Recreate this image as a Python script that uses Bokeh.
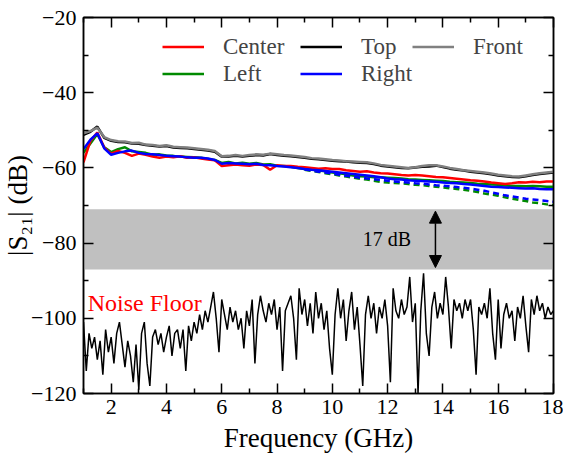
import numpy as np
from bokeh.plotting import figure
from bokeh.models import (LinearAxis, FixedTicker, Range1d, Legend, LegendItem,
                          BoxAnnotation, Arrow, NormalHead, Label, CustomJSTickFormatter)
from bokeh.embed import file_html
from bokeh.resources import INLINE

# ---------------- data ----------------
freq = np.round(np.arange(1.0, 18.001, 0.25), 2)          # 69 points
freq_tail = np.round(np.arange(9.0, 18.001, 0.25), 2)     # 37 points
freq_noise = np.round(np.arange(1.0, 18.001, 0.1), 2)     # 171 points

front = [-50.8, -50.2, -49.3, -51.8,
         -52.6, -52.9, -53.0, -53.4,
         -53.3, -53.8, -53.9, -54.2,
         -54.0, -54.4, -54.5, -54.6,
         -54.8, -55.0, -55.2, -55.5,
         -56.9, -56.8, -56.6, -56.8,
         -56.6, -56.4, -56.5, -56.2,
         -56.4, -56.6, -56.7, -56.9,
         -57.1, -57.4, -57.5, -57.7,
         -57.9, -58.0, -58.2, -58.3,
         -58.4, -58.5, -58.8, -59.2,
         -59.4, -59.6, -59.8, -60.0,
         -59.8, -59.5, -59.3, -59.3,
         -59.6, -60.0, -60.3, -60.6,
         -60.8, -61.0, -61.2, -61.5,
         -61.8, -62.0, -62.2, -62.3,
         -62.0, -61.7, -61.4, -61.2,
         -61.0]

top = [-51.2, -50.4, -49.0, -52.0,
       -52.8, -53.1, -53.2, -53.5,
       -53.6, -53.9, -54.1, -54.3,
       -54.2, -54.6, -54.7, -54.8,
       -55.0, -55.2, -55.4, -55.7,
       -57.0, -57.0, -56.8, -57.0,
       -56.8, -56.6, -56.7, -56.3,
       -56.6, -56.8, -56.9, -57.1,
       -57.3, -57.6, -57.7, -57.9,
       -58.1, -58.2, -58.3, -58.5,
       -58.6, -58.7, -59.0, -59.4,
       -59.6, -59.8, -60.0, -60.1,
       -59.9, -59.7, -59.6, -59.4,
       -59.8, -60.2, -60.5, -60.7,
       -61.0, -61.2, -61.4, -61.7,
       -62.0, -62.2, -62.4, -62.5,
       -62.2, -61.9, -61.6, -61.4,
       -61.2]

center = [-58.5, -52.8, -50.6, -54.6,
          -56.2, -55.5, -56.0, -56.8,
          -56.2, -56.5, -57.0, -57.3,
          -57.0, -57.2, -56.9, -57.3,
          -57.2, -57.5, -57.8, -58.0,
          -59.5, -59.3, -59.1, -59.3,
          -59.4, -59.1, -59.2, -60.5,
          -59.3, -59.5, -59.5, -59.7,
          -59.8, -60.0, -60.2, -60.1,
          -60.3, -60.3, -60.6, -60.8,
          -61.0, -60.9, -61.2, -61.4,
          -61.5, -61.7, -61.9, -62.0,
          -61.9, -62.0, -62.2, -62.4,
          -62.5, -62.7, -62.9, -63.1,
          -63.3, -63.4, -63.6, -63.9,
          -64.1, -64.3, -64.1, -63.8,
          -63.9, -63.7, -63.8, -63.6,
          -63.6]

left = [-56.0, -53.5, -51.0, -54.5,
        -55.8, -55.0, -54.5, -55.6,
        -55.8, -56.0, -56.5, -56.4,
        -56.7, -56.8, -57.0, -57.1,
        -57.2, -57.3, -57.6, -57.9,
        -58.7, -58.4, -58.8, -58.6,
        -58.9, -58.7, -59.1, -59.0,
        -59.4, -59.5, -59.7, -60.0,
        -60.3, -60.4, -60.7, -60.9,
        -61.2, -61.4, -61.7, -62.0,
        -62.2, -62.3, -62.5, -62.5,
        -62.6, -62.7, -62.8, -63.0,
        -63.1, -63.2, -63.3, -63.4,
        -63.5, -63.7, -63.8, -63.9,
        -64.0, -64.2, -64.3, -64.4,
        -64.5, -64.7, -64.8, -64.8,
        -64.9, -64.8, -64.9, -65.0,
        -65.0]

right = [-55.0, -52.5, -50.8, -54.8,
         -56.5, -56.0, -55.6, -55.4,
         -56.0, -56.3, -56.4, -56.6,
         -56.8, -56.9, -57.0, -57.2,
         -57.3, -57.3, -57.5, -57.9,
         -58.9, -58.7, -58.8, -58.9,
         -59.0, -58.9, -59.2, -59.3,
         -59.5, -59.6, -59.8, -60.0,
         -60.3, -60.5, -60.6, -60.8,
         -61.0, -61.2, -61.4, -61.6,
         -61.8, -62.0, -62.2, -62.5,
         -62.8, -63.0, -63.1, -63.3,
         -63.4, -63.5, -63.6, -63.7,
         -63.9, -64.0, -64.1, -64.3,
         -64.4, -64.6, -64.8, -65.0,
         -65.1, -65.2, -65.3, -65.4,
         -65.5, -65.4, -65.6, -65.7,
         -65.7]

left_tail = [-60.5, -60.8, -61.1, -61.4,
             -61.7, -62.0, -62.3, -62.6,
             -62.9, -63.1, -63.4, -63.7,
             -63.9, -64.0, -64.1, -64.3,
             -64.5, -64.6, -64.8, -65.0,
             -65.2, -65.4, -65.6, -65.8,
             -66.1, -66.4, -66.8, -67.1,
             -67.4, -67.8, -68.2, -68.5,
             -68.8, -69.2, -69.4, -69.7,
             -69.9]

right_tail = [-60.4, -60.7, -61.0, -61.2,
              -61.5, -61.8, -62.1, -62.3,
              -62.6, -62.8, -63.0, -63.2,
              -63.4, -63.6, -63.8, -63.9,
              -64.1, -64.2, -64.4, -64.6,
              -64.7, -64.9, -65.1, -65.3,
              -65.5, -65.8, -66.1, -66.5,
              -66.9, -67.3, -67.6, -67.9,
              -68.2, -68.4, -68.6, -68.8,
              -69.0]

noise = [-101, -114, -104, -108, -105, -111, -106, -115, -103, -109,
         -105, -112, -104, -101, -107, -113, -106, -110, -117, -107,
         -119, -104, -101, -112, -118, -105, -103, -107, -104, -109,
         -105, -102, -110, -104, -103, -108, -103, -114, -102, -106,
         -101, -104, -99, -103, -98, -101, -97, -93, -100, -109,
         -95, -99, -103, -97, -101, -98, -103, -100, -108, -98,
         -102, -95, -112, -99, -94, -98, -101, -96, -99, -95,
         -103, -97, -114, -98, -96, -94, -100, -111, -92, -99,
         -95, -102, -96, -104, -93, -100, -96, -103, -98, -108,
         -115, -99, -92, -100, -95, -106, -98, -93, -103, -97,
         -107, -118, -99, -94, -100, -96, -104, -97, -100, -95,
         -102, -117, -92, -98, -100, -95, -99, -97, -89, -101,
         -96, -120, -98, -88, -104, -110, -97, -93, -100, -96,
         -99, -89, -97, -108, -95, -98, -96, -100, -95, -98,
         -95, -103, -115, -97, -99, -96, -100, -92, -104, -111,
         -95, -108, -99, -96, -100, -98, -106, -97, -100, -94,
         -102, -109, -95, -99, -94, -98, -96, -100, -97, -99,
         -98]

x_ticks = [2, 4, 6, 8, 10, 12, 14, 16, 18]
x_minor = [1, 3, 5, 7, 9, 11, 13, 15, 17]
y_ticks = [-120, -100, -80, -60, -40, -20]
y_minor = [-110, -90, -70, -50, -30]

band_top, band_bottom = -71, -87
arrow_x = 13.73
gap_label = "17 dB"
noise_label = "Noise Floor"

FONT = "Liberation Serif"

# ---------------- figure ----------------
p = figure(width=563, height=459, output_backend="svg", toolbar_location=None,
           x_range=Range1d(1, 18), y_range=Range1d(-120, -20),
           min_border_left=83, min_border_right=10, min_border_top=17,
           min_border_bottom=66)
p.grid.visible = False
p.outline_line_color = "black"
p.outline_line_width = 1.5
p.background_fill_color = "white"
p.border_fill_color = "white"

xt = FixedTicker(ticks=x_ticks, minor_ticks=x_minor)
yt = FixedTicker(ticks=y_ticks, minor_ticks=y_minor)


def style_axis(ax, labels=True):
    ax.axis_line_width = 1.5
    ax.major_tick_in = 10
    ax.major_tick_out = 0
    ax.minor_tick_in = 5
    ax.minor_tick_out = 0
    ax.major_tick_line_width = 1.5
    ax.minor_tick_line_width = 1.5
    if labels:
        ax.major_label_text_font = FONT
        ax.major_label_text_font_size = "22px"
        ax.major_label_text_color = "black"
        ax.axis_label_text_font = FONT
        ax.axis_label_text_font_size = "27px"
        ax.axis_label_text_font_style = "normal"
        ax.axis_label_text_color = "black"
    else:
        ax.formatter = CustomJSTickFormatter(code="return ''")
        ax.major_label_standoff = 0


p.xaxis.ticker = xt
p.yaxis.ticker = yt
style_axis(p.xaxis[0])
style_axis(p.yaxis[0])
p.xaxis.axis_label = "Frequency (GHz)"
p.yaxis.axis_label = "|S₂₁| (dB)"
p.xaxis.major_label_standoff = 6
p.yaxis.major_label_standoff = 7
p.xaxis.axis_label_standoff = 6
p.yaxis.axis_label_standoff = -5

ax_top = LinearAxis(ticker=xt)
style_axis(ax_top, labels=False)
p.add_layout(ax_top, "above")
ax_right = LinearAxis(ticker=yt)
style_axis(ax_right, labels=False)
p.add_layout(ax_right, "right")

# gray band
p.add_layout(BoxAnnotation(top=band_top, bottom=band_bottom, fill_color="#c0c0c0",
                           fill_alpha=1, line_color=None, level="underlay"))

# curves
r_top = p.line(freq, top, line_color="black", line_width=2.5)
r_front = p.line(freq, front, line_color="#808080", line_width=2.5)
r_left = p.line(freq, left, line_color="#008a00", line_width=2.5)
p.line(freq_tail, left_tail, line_color="#008a00", line_width=2.5, line_dash="6 4")
r_center = p.line(freq, center, line_color="#ff0000", line_width=2.5)
r_right = p.line(freq, right, line_color="#0000ff", line_width=2.5)
p.line(freq_tail, right_tail, line_color="#0000ff", line_width=2.5, line_dash="6 4")

p.line(freq_noise, noise, line_color="black", line_width=1.5)

# arrow + labels
p.add_layout(Arrow(x_start=arrow_x, y_start=band_bottom + 0.5, x_end=arrow_x, y_end=band_top - 0.5,
                   line_width=1.5, line_color="black",
                   start=NormalHead(size=12, fill_color="black", line_color="black"),
                   end=NormalHead(size=12, fill_color="black", line_color="black")))
p.add_layout(Label(x=12.85, y=(band_top + band_bottom) / 2, text=gap_label,
                   text_align="right", text_baseline="middle",
                   text_font=FONT, text_font_size="20px", text_color="black"))
p.add_layout(Label(x=1.15, y=-95.8, text=noise_label, text_align="left",
                   text_baseline="alphabetic", text_font=FONT,
                   text_font_size="24px", text_color="#ff0000"))


# legends (three blocks)
def mk_legend(items, vx, vy):
    lg = Legend(items=items, location=(vx, vy), orientation="vertical",
                padding=0, spacing=0, margin=0,
                glyph_width=42, glyph_height=27, label_height=27, label_standoff=19,
                label_text_font=FONT, label_text_font_size="23px",
                border_line_color=None, background_fill_alpha=0)
    p.add_layout(lg)


mk_legend([LegendItem(label="Center", renderers=[r_center]),
           LegendItem(label="Left", renderers=[r_left])], 79, 306)
mk_legend([LegendItem(label="Top", renderers=[r_top]),
           LegendItem(label="Right", renderers=[r_right])], 217, 306)
mk_legend([LegendItem(label="Front", renderers=[r_front])], 329, 333)

open("out.html", "w").write(file_html(p, INLINE))
